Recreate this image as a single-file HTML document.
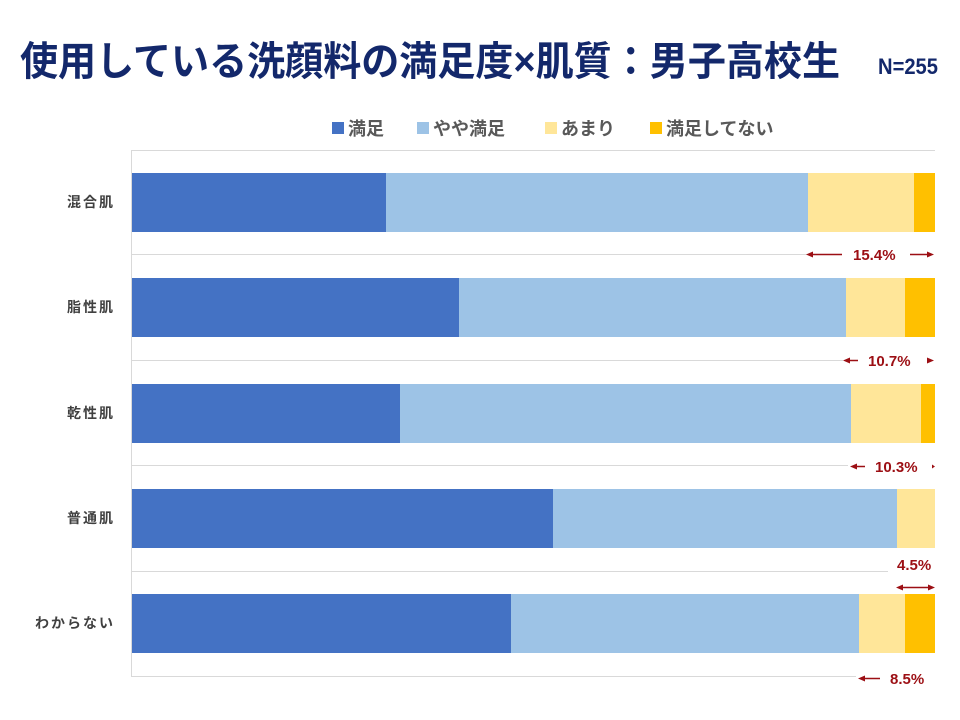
<!DOCTYPE html>
<html><head><meta charset="utf-8"><style>
body{margin:0;background:#fff;}
svg{display:block}
</style></head><body>
<svg width="960" height="720" xmlns="http://www.w3.org/2000/svg" font-family="'Liberation Sans','Noto Sans CJK JP',sans-serif">
<text x="20" y="75" font-size="40" font-weight="bold" fill="#13286b" textLength="820" lengthAdjust="spacingAndGlyphs">使用している洗顔料の満足度×肌質：男子高校生</text>
<text x="878" y="74" font-size="22" font-weight="bold" fill="#13286b" textLength="60" lengthAdjust="spacingAndGlyphs">N=255</text>
<g font-size="18" fill="#595959" font-weight="bold">
<rect x="332" y="122" width="12" height="12" fill="#4472c4"/><text x="348" y="135">満足</text>
<rect x="417" y="122" width="12" height="12" fill="#9dc3e6"/><text x="433" y="135">やや満足</text>
<rect x="545" y="122" width="12" height="12" fill="#ffe699"/><text x="561" y="135">あまり</text>
<rect x="650" y="122" width="12" height="12" fill="#ffc000"/><text x="666" y="135">満足してない</text>
</g>
<g stroke="#d9d9d9" stroke-width="1">
<line x1="131" y1="150.5" x2="935" y2="150.5"/>
<line x1="131" y1="254.5" x2="935" y2="254.5"/>
<line x1="131" y1="360.5" x2="935" y2="360.5"/>
<line x1="131" y1="465.5" x2="935" y2="465.5"/>
<line x1="131" y1="571.5" x2="935" y2="571.5"/>
<line x1="131" y1="676.5" x2="935" y2="676.5"/>
<line x1="131.5" y1="150" x2="131.5" y2="677"/>
</g>
<g>
<rect x="132" y="173" width="254" height="59" fill="#4472c4"/><rect x="386" y="173" width="422" height="59" fill="#9dc3e6"/><rect x="808" y="173" width="106" height="59" fill="#ffe699"/><rect x="914" y="173" width="21" height="59" fill="#ffc000"/>
<rect x="132" y="278" width="327" height="59" fill="#4472c4"/><rect x="459" y="278" width="387" height="59" fill="#9dc3e6"/><rect x="846" y="278" width="59" height="59" fill="#ffe699"/><rect x="905" y="278" width="30" height="59" fill="#ffc000"/>
<rect x="132" y="384" width="268" height="59" fill="#4472c4"/><rect x="400" y="384" width="451" height="59" fill="#9dc3e6"/><rect x="851" y="384" width="70" height="59" fill="#ffe699"/><rect x="921" y="384" width="14" height="59" fill="#ffc000"/>
<rect x="132" y="489" width="421" height="59" fill="#4472c4"/><rect x="553" y="489" width="344" height="59" fill="#9dc3e6"/><rect x="897" y="489" width="38" height="59" fill="#ffe699"/>
<rect x="132" y="594" width="379" height="59" fill="#4472c4"/><rect x="511" y="594" width="348" height="59" fill="#9dc3e6"/><rect x="859" y="594" width="46" height="59" fill="#ffe699"/><rect x="905" y="594" width="30" height="59" fill="#ffc000"/>
</g>
<g font-size="14" fill="#404040" font-weight="bold" text-anchor="end">
<text x="115" y="207" letter-spacing="2">混合肌</text>
<text x="115" y="312" letter-spacing="2">脂性肌</text>
<text x="115" y="418" letter-spacing="2">乾性肌</text>
<text x="115" y="523" letter-spacing="2">普通肌</text>
<text x="115" y="628" letter-spacing="2">わからない</text>
</g>
<g fill="#9c0f14" stroke="#9c0f14" font-size="15" font-weight="bold">
<rect x="840" y="244" width="95" height="20" fill="#fff" stroke="none"/>
<line x1="810" y1="254.5" x2="842" y2="254.5" stroke-width="1.5"/><path d="M806 254.5 l7 -3 v6z" stroke="none"/>
<line x1="910" y1="254.5" x2="928" y2="254.5" stroke-width="1.5"/><path d="M934 254.5 l-7 -3 v6z" stroke="none"/>
<text x="853" y="260" stroke="none">15.4%</text>
<rect x="843" y="350" width="92" height="20" fill="#fff" stroke="none"/>
<line x1="848" y1="360.5" x2="858" y2="360.5" stroke-width="1.5"/><path d="M843 360.5 l7 -3 v6z" stroke="none"/>
<path d="M934 360.5 l-7 -3 v6z" stroke="none"/>
<text x="868" y="366" stroke="none">10.7%</text>
<rect x="848" y="456" width="87" height="20" fill="#fff" stroke="none"/>
<line x1="855" y1="466.5" x2="865" y2="466.5" stroke-width="1.5"/><path d="M850 466.5 l7 -3 v6z" stroke="none"/>
<path d="M935 466.5 l-3 -2 v4z" stroke="none"/>
<text x="875" y="472" stroke="none">10.3%</text>
<rect x="888" y="556" width="47" height="22" fill="#fff" stroke="none"/>
<text x="897" y="570" stroke="none">4.5%</text>
<line x1="898" y1="587.5" x2="933" y2="587.5" stroke-width="1.5"/><path d="M896 587.5 l7 -3 v6z M935 587.5 l-7 -3 v6z" stroke="none"/>
<rect x="856" y="666" width="79" height="22" fill="#fff" stroke="none"/>
<line x1="864" y1="678.5" x2="880" y2="678.5" stroke-width="1.5"/><path d="M858 678.5 l7 -3 v6z" stroke="none"/>
<text x="890" y="684" stroke="none">8.5%</text>
</g>
</svg>
</body></html>
